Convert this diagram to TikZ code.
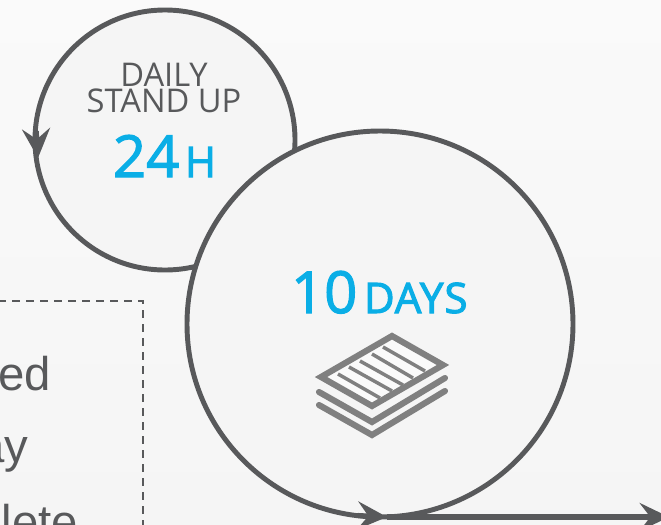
\documentclass[tikz,border=0pt]{standalone}
\usepackage{fontspec}
\setmainfont{Open Sans}
\newfontfamily\bodyfont{Liberation Sans}
\newfontfamily\numfont{Open Sans}[FakeBold=2]
\newfontfamily\unitfont{Open Sans}[FakeBold=2.6,LetterSpace=2.5]
\usetikzlibrary{arrows.meta}
\definecolor{ink}{HTML}{58595B}
\definecolor{sky}{HTML}{0AAEE6}
\definecolor{icon}{HTML}{808080}
\definecolor{panel}{HTML}{F5F5F5}
\tikzset{
  ring/.style={circle,draw=ink,line width=3.7pt,fill=panel,inner sep=0pt,outer sep=0pt},
  flow/.style={draw=ink,line width=3.8pt,-{Stealth[length=22pt,width=21pt,inset=8pt]}},
  label/.style={inner sep=0pt,outer sep=0pt,anchor=base},
  headtext/.style={label,text=ink,font=\fontsize{24.5}{25}\selectfont},
  bignum/.style={label,anchor=base west,text=sky,font=\numfont\fontsize{43.5}{44}\selectfont},
  unit/.style={label,anchor=base west,text=sky,font=\unitfont\fontsize{31.5}{32}\selectfont},
  bodytext/.style={inner sep=0pt,outer sep=0pt,anchor=base east,text=ink,font=\bodyfont\fontsize{35.5}{36}\selectfont},
  iconline/.style={draw=icon,line width=4.6pt,line cap=round,line join=miter},
  iconrule/.style={draw=icon,line width=2.6pt},
  notebox/.style={draw=ink,line width=1pt,dash pattern=on 6pt off 4.5pt}
}
\begin{document}
\begin{tikzpicture}[x=0.75pt,y=-0.75pt]
\useasboundingbox (0,0) rectangle (661,525);
\clip (0,0) rectangle (661,525);
\shade[top color=white!98!black,bottom color=panel] (0,0) rectangle (661,525);
% note box
\draw[notebox] (-2,301) -- (143,301) -- (143,530);
\node[bodytext] (t1) at (51,390) {ed};
\node[bodytext] (t2) at (28,462) {ay};
\node[bodytext] (t3) at (78,538) {lete};
% small loop
\node[ring,minimum size=195pt] (small) at (165,140) {};
\coordinate (smallA) at (36.2,131);
\coordinate (smallB) at (38,158);
\draw[flow] (smallA) -- (smallB);
\node[headtext] (daily) at (164,86) {DAILY};
\node[headtext] (stand) at (164,112) {STAND UP};
\node[bignum] (n24) at (113,177) {24};
\node[unit] (h) at (185,177) {H};
% big loop
\node[ring,minimum size=289.5pt] (big) at (380,324) {};
\coordinate (bigA) at (358,515.5);
\coordinate (bigB) at (387,517);
\coordinate (bigC) at (669,517);
\draw[flow] (bigA) -- (bigB);
\draw[flow] (bigB) -- (bigC);
\node[bignum] (n10) at (291,313) {10};
\node[unit] (days) at (364,313) {DAYS};
% stack icon
\draw[iconline,fill=white!50!panel] (392,336) -- (443,365) -- (372,406) -- (321,377) -- cycle;
\foreach \xa/\ya/\xb/\yb in {383/347/425/371,372/354/413/378,360/361/403/385,349/367/392/391,338/374/380/398}
  \draw[iconrule] (\xa,\ya) -- (\xb,\yb);
\draw[iconline] (319,392) -- (372,422) -- (445,378);
\draw[iconline] (319,405) -- (372,435) -- (445,391);
\end{tikzpicture}
\end{document}
